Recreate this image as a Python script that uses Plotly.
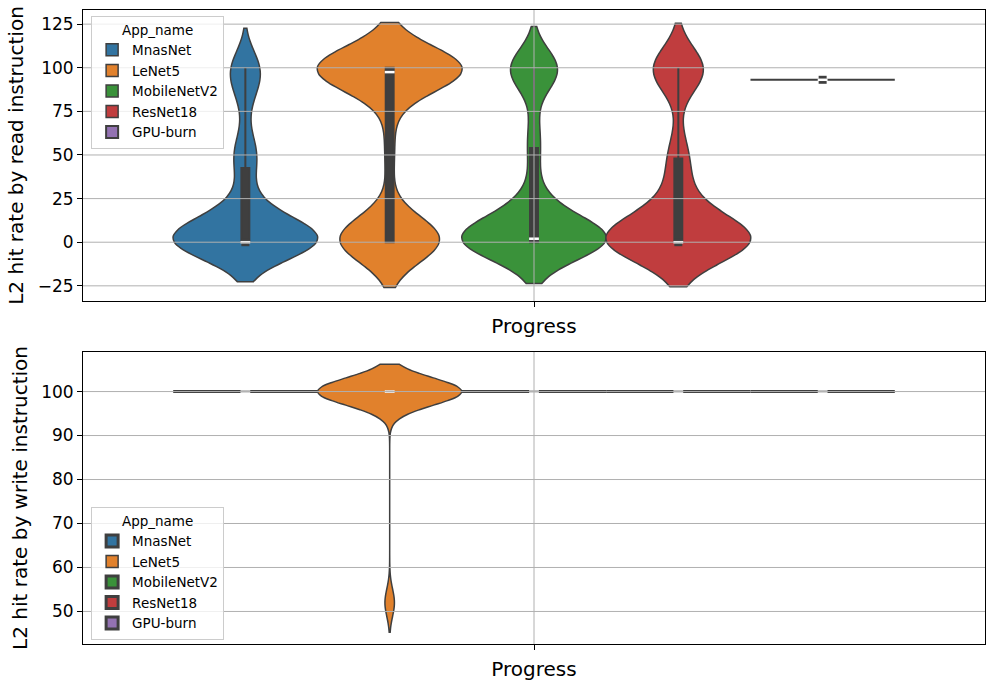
import numpy as np
import plotly.graph_objects as go

# ---------------- data ----------------
apps = ["MnasNet", "LeNet5", "MobileNetV2", "ResNet18", "GPU-burn"]
colors = ["#3274a1", "#e1812c", "#3a923a", "#c03d3e", "#9372b2"]

# L2 hit rate by read instruction (samples per application)
read_mnasnet = [0, 0, 0, 0, 0, 0, 0, 0, 0, 0, 0, 0, 0, 0, 0, 0, 0, 0, 0, 0,
                0, 0, 0, 0, 0, 0, 0, 0, 0,
                6, 7, 8, 9, 10, 10, 11, 12, 13, 14,
                18, 24, 30, 42, 44, 50, 52, 54, 56, 80, 86, 90,
                98, 99, 100, 100, 100, 100]
read_lenet5 = [0, 0, 0, 0, 0, 0, 0, 0, 0, 0, 0, 0, 0, 0, 2, 3, 4, 5, 6, 7, 8,
               40, 55, 70,
               96, 97, 97, 98, 98, 98, 99, 99, 99, 99, 99, 99,
               100, 100, 100, 100, 100, 100, 100, 100, 100, 100, 100, 100,
               100, 100, 100, 100, 100, 100]
read_mobilenetv2 = [0, 0, 0, 0, 0, 0, 0, 0, 0, 0, 0, 0, 0, 0, 0, 0, 0, 0, 0, 0,
                    0, 0, 2, 2, 2, 2, 2, 3,
                    7, 8, 9, 10, 13, 15, 16, 18, 21, 25,
                    42, 52, 60, 68,
                    95, 97, 98, 99, 99, 100, 100, 100, 100, 100, 100]
read_resnet18 = [0, 0, 0, 0, 0, 0, 0, 0, 0, 0, 0, 0, 0, 0, 0, 0, 0, 0, 0, 0,
                 0, 0, 0, 0,
                 8, 9, 11, 12, 16, 18, 19, 21,
                 38, 38, 48, 48, 58,
                 95, 97, 98, 99, 100, 100, 100, 100, 100, 100]
read_gpuburn = [93.1, 93.1, 93.1, 93.1, 93.1, 93.1, 93.1, 93.1]

# L2 hit rate by write instruction (samples per application)
write_mnasnet = [100, 100, 100, 100, 100, 100, 100, 100]
write_lenet5 = [51.5, 52.5,
                100, 100, 100, 100, 100, 100, 100, 100, 100, 100,
                100, 100, 100, 100, 100, 100, 100, 100, 100, 100,
                100, 100, 100, 100, 100, 100, 100, 100, 100, 100]
write_mobilenetv2 = [100, 100, 100, 100, 100, 100, 100, 100]
write_resnet18 = [100, 100, 100, 100, 100, 100, 100, 100]
write_gpuburn = [100, 100, 100, 100, 100, 100, 100, 100]

read_values = [read_mnasnet, read_lenet5, read_mobilenetv2, read_resnet18, read_gpuburn]
write_values = [write_mnasnet, write_lenet5, write_mobilenetv2, write_resnet18, write_gpuburn]

# kernel bandwidths (None -> plotly default)
read_bw = [11.3, 13.0, 11.8, 12.75, None]
write_bw = [None, 3.1, None, None, None]

read_yticks = [-25, 0, 25, 50, 75, 100, 125]
write_yticks = [50, 60, 70, 80, 90, 100]
read_range = [-33.7, 133.1]
write_range = [42.6, 109.0]

# ---------------- figure ----------------
FONT = "DejaVu Sans"
LINE = "#3f3f3f"
GRID = "#b0b0b0"

fig = go.Figure()


def add_violins(values, bws, xa, ya, legend, grid_ticks):
    for name, col, vals, bw in zip(apps, colors, values, bws):
        kw = dict(bandwidth=bw) if bw is not None else {}
        flat = min(vals) == max(vals)
        on_grid = flat and vals[0] in grid_ticks
        fig.add_trace(go.Violin(
            y=vals, x0=0, name=name, legend=legend,
            offsetgroup=name, scalegroup=legend + "-" + name,
            xaxis=xa, yaxis=ya,
            fillcolor=col, opacity=1,
            line=dict(color=LINE, width=3 if on_grid else (2 if flat else 1.5)),
            points=False, spanmode="soft", scalemode="width",
            box=dict(visible=True, width=0.055, fillcolor=LINE,
                     line=dict(color=LINE, width=2)),
            meanline=dict(visible=False),
            hoverinfo="skip", **kw))


add_violins(read_values, read_bw, "x", "y", "legend", read_yticks)
add_violins(write_values, write_bw, "x2", "y2", "legend2", write_yticks)

# median markers (seaborn style)
offsets = [-0.4 + 0.8 * (i + 0.5) / len(apps) for i in range(len(apps))]
read_medians = [float(np.median(v)) for v in read_values]
write_medians = [float(np.median(v)) for v in write_values]

fig.add_trace(go.Scatter(x=offsets, y=read_medians, mode="markers", xaxis="x", yaxis="y",
                         marker=dict(symbol="square", size=8, color=LINE),
                         showlegend=False, hoverinfo="skip"))
for xa, ya, med in [("x", "y", read_medians), ("x2", "y2", write_medians)]:
    fig.add_trace(go.Scatter(x=offsets, y=med, mode="markers", xaxis=xa, yaxis=ya,
                             marker=dict(symbol="line-ew", size=7,
                                         line=dict(color="white", width=2.5)),
                             showlegend=False, hoverinfo="skip"))

# grid lines drawn above the violins (as in matplotlib output)
shapes = []
for yref, ticks, rng in [("y", read_yticks, read_range), ("y2", write_yticks, write_range)]:
    xd = "x domain" if yref == "y" else "x2 domain"
    for t in ticks:
        if rng[0] <= t <= rng[1]:
            shapes.append(dict(type="line", xref=xd, yref=yref, x0=0, x1=1, y0=t, y1=t,
                               line=dict(color=GRID, width=1), layer="above"))
    xr = "x" if yref == "y" else "x2"
    shapes.append(dict(type="line", xref=xr, yref=yref + " domain", x0=0, x1=0, y0=0, y1=1,
                       line=dict(color=GRID, width=1), layer="above"))

axis_common = dict(showline=True, mirror=True, linecolor="black", linewidth=1,
                   ticks="outside", ticklen=5, tickwidth=1, tickcolor="black",
                   showgrid=False, zeroline=False, automargin=False)

xax = dict(axis_common, range=[-0.5, 0.5], tickvals=[0], showticklabels=False,
           title=dict(text="Progress", font=dict(size=20, color="black"), standoff=12))
legend_common = dict(title=dict(text="App_name", side="top center", font=dict(size=13.5)),
                     x=0.009, xanchor="left", yanchor="top",
                     bgcolor="rgba(255,255,255,0.8)", bordercolor="#cccccc", borderwidth=1,
                     font=dict(size=13.5), itemwidth=30, tracegroupgap=0)
fig.update_layout(
    width=994, height=689,
    margin=dict(l=83, r=9, t=10, b=45),
    paper_bgcolor="white", plot_bgcolor="white",
    font=dict(family=FONT, color="black"),
    violinmode="group", violingap=0.2, violingroupgap=0,
    xaxis=dict(xax, anchor="y", domain=[0, 1]),
    xaxis2=dict(xax, anchor="y2", domain=[0, 1]),
    yaxis=dict(axis_common, anchor="x", domain=[0.541, 1], range=read_range,
               tickvals=read_yticks, tickfont=dict(size=17),
               title=dict(text="L2 hit rate by read instruction",
                          font=dict(size=20), standoff=8)),
    yaxis2=dict(axis_common, anchor="x2", domain=[0, 0.4606], range=write_range,
                tickvals=write_yticks, tickfont=dict(size=17),
                title=dict(text="L2 hit rate by write instruction",
                           font=dict(size=20), standoff=8)),
    shapes=shapes,
    legend=dict(legend_common, y=0.9905),
    legend2=dict(legend_common, y=0.216),
)

fig.write_html("out.html")
